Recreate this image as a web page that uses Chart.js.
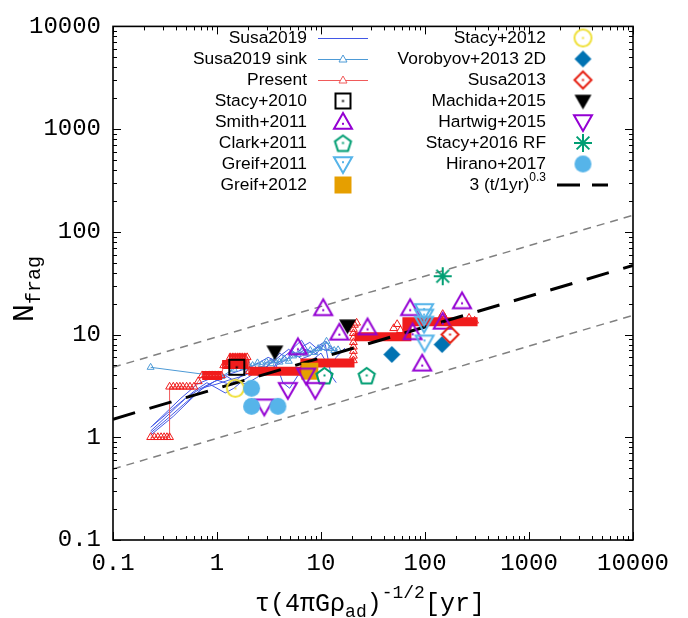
<!DOCTYPE html>
<html><head><meta charset="utf-8">
<script src="https://cdn.jsdelivr.net/npm/chart.js@4.4.1/dist/chart.umd.min.js"></script>
<style>html,body{margin:0;padding:0;background:#fff}canvas{display:block}</style>
</head><body>
<canvas id="c" width="688" height="618"></canvas>
<script>
// ---------------- DATA ----------------
const xTickValues = [0.1, 1, 10, 100, 1000, 10000];
const xTickLabels = ['0.1', '1', '10', '100', '1000', '10000'];
const yTickValues = [0.1, 1, 10, 100, 1000, 10000];
const yTickLabels = ['0.1', '1', '10', '100', '1000', '10000'];

// Susa2019 (several tracks)
const susa19T1X = [0.23,0.35,0.5,0.7,1.0,1.3,1.7,2.2,2.8,3.3,3.8,4.5,5.2,6.0,7.0,8.0,9.5,11,13];
const susa19T1Y = [1.15,1.7,2.4,3.0,3.3,3.6,3.9,4.3,5.0,5.8,5.2,6.2,7.0,6.4,7.2,6.8,7.6,7.0,7.4];
const susa19T2X = [0.23,0.4,0.6,0.8,1.0,1.2,1.45,1.8,2.3,2.8,3.4,4.0,4.8,5.5,6.5,7.5,9,10.5];
const susa19T2Y = [1.25,2.0,2.8,3.4,3.0,2.7,3.0,3.6,4.2,4.6,5.5,6.6,5.8,7.5,8.8,7.0,6.5,7.8];
const susa19T3X = [0.23,0.38,0.55,0.75,1.0,1.3,1.6,2.0,2.5,3.0,3.5,3.9,4.3,5.0,6.0,7.0,8.5,10,12,14,17];
const susa19T3Y = [1.05,1.6,2.3,3.1,3.6,3.3,3.7,4.6,4.0,4.8,5.6,4.5,3.4,3.0,4.0,5.2,5.8,6.6,4.8,6.0,7.4];
const susa19T4X = [0.24,0.45,0.65,0.9,1.2,1.6,2.1,2.6,3.1,3.6,4.2,4.9,5.7,6.6,7.8,9,11,12.5,14];
const susa19T4Y = [1.3,2.4,3.3,3.8,4.0,4.4,4.8,5.4,6.0,5.6,6.4,7.2,6.2,7.6,8.4,7.4,8.0,4.0,3.4];
const susa19T5X = [0.23,0.33,0.48,0.7,0.95,1.25,1.5,1.9,2.4,3.0,3.7,4.5,5.5,6.5,8,9.5,11,13,15];
const susa19T5Y = [1.1,1.5,2.1,2.9,3.5,3.9,3.5,3.3,3.8,4.4,5.0,5.6,6.5,5.8,6.3,7.8,8.6,7.2,6.5];

// Susa2019 sink
const sinkX = [0.23,1.1,1.45,1.6,1.8,2.0,2.2,2.45,2.7,3.0,3.3,3.6,4.0,4.4,4.9,5.4,6.0,6.6,7.2,7.9,8.6,9.4,10.3,11.3,12.3,13.4,14.6];
const sinkY = [4.8,3.9,4.6,4.9,4.8,5.1,5.0,5.3,5.1,5.4,5.2,5.6,5.4,5.8,5.5,6.2,6.4,6.8,6.5,7.0,6.7,7.3,7.5,8.6,7.3,7.0,7.1];

// Present
const presentX = [0.23,0.25,0.27,0.29,0.31,0.33,0.35,0.35,0.38,0.41,0.44,0.47,0.51,0.55,0.6,0.66,0.72,0.78,0.84,0.9,0.96,1.03,1.1,1.16,1.22,1.28,1.34,1.42,1.5,1.58,1.66,1.75,1.85,1.95,2.05];
const presentY = [1,1,1,1,1,1,1,3.1,3.1,3.1,3.1,3.1,3.1,3.1,3.1,3.5,4,4,4,4,4,4,4,5,5,5,6,6,6,6,6,6,6,6,4.4];
const presentBandX = [0.72,1.12,null,1.12,2.05,null,1.3,1.92,null,2.0,7.0,7.0,21,null,21,67,67,320];
const presentBandY = [4,4,null,5.1,5.1,null,5.9,5.9,null,4.4,4.4,5.3,5.3,null,9.5,9.5,13.3,13.3];
const presentColX = [20.5,20.5,20.5,20.5,20.5,20.5,20.5,20.5,21,22,50,54,58,140,148,155,265,300];
const presentColY = [5.6,6.2,6.9,7.6,8.4,9.3,10.3,11.3,12.4,13,11.5,12.6,11,14.2,15.8,14.5,14.5,13.6];

// Literature points
const stacy2010X = [1.55], stacy2010Y = [4.8];
const smith2011X = [10.5,15,28,72,227,76,94,6,148];
const smith2011Y = [18,10.4,11.7,18,21,10.5,5.2,7.5,13.3];
const clark2011X = [10.8,27.5], clark2011Y = [4.0,4.0];
const greif2011X = [98,98,98,99], greif2011Y = [17,15,12.8,8.4];
const greif2012X = [7.8], greif2012Y = [4.4];
const stacy2012X = [1.5], stacy2012Y = [3.0];
const vorobyovX = [48,146], vorobyovY = [6.4,8.0];
const susa2013X = [174], susa2013Y = [10];
const machidaX = [3.6,18], machidaY = [6.8,12.2];
const hartwigX = [2.85,4.8,7.2,8.8], hartwigY = [2.0,2.9,4.0,2.9];
const stacy2016X = [148], stacy2016Y = [37];
const hiranoX = [2.15,2.15,3.85], hiranoY = [3.0,2.0,2.0];

// Fit 3 (t/1yr)^0.3 and its bounds (read at x-axis ends)
const fitX = [0.1, 10000], fitY = [1.5, 47];
const upperY = [4.8, 145], lowerY = [0.49, 15.4];

// ---------------- MARKERS ----------------
function marker(kind, color, size, opts) {
  opts = opts || {};
  const pad = 3, W = Math.ceil(size + pad * 2);
  const c = document.createElement('canvas'); c.width = W; c.height = W;
  const g = c.getContext('2d'); const cx = W / 2, cy = W / 2, r = size / 2;
  g.strokeStyle = color; g.fillStyle = color; g.lineWidth = opts.lw || 2; g.lineJoin = 'miter';
  g.beginPath();
  let dy = 0;
  if (kind === 'square') g.rect(cx - r, cy - r, size, size);
  else if (kind === 'triUp') { g.moveTo(cx, cy - r); g.lineTo(cx + r, cy + r * 0.75); g.lineTo(cx - r, cy + r * 0.75); g.closePath(); dy = r * 0.2; }
  else if (kind === 'triDown') { g.moveTo(cx, cy + r); g.lineTo(cx + r, cy - r * 0.75); g.lineTo(cx - r, cy - r * 0.75); g.closePath(); dy = -r * 0.2; }
  else if (kind === 'circle') g.arc(cx, cy, r, 0, Math.PI * 2);
  else if (kind === 'diamond') { g.moveTo(cx, cy - r); g.lineTo(cx + r, cy); g.lineTo(cx, cy + r); g.lineTo(cx - r, cy); g.closePath(); }
  else if (kind === 'pentagon') { for (let i = 0; i < 5; i++) { const a = -Math.PI / 2 + i * 2 * Math.PI / 5; const px = cx + r * Math.cos(a), py = cy + 1 + r * Math.sin(a); if (i) g.lineTo(px, py); else g.moveTo(px, py); } g.closePath(); }
  else if (kind === 'star') { for (let i = 0; i < 4; i++) { const a = i * Math.PI / 4; g.moveTo(cx - r * Math.cos(a), cy - r * Math.sin(a)); g.lineTo(cx + r * Math.cos(a), cy + r * Math.sin(a)); } }
  if (opts.fill) g.fill(); else g.stroke();
  if (opts.dot) g.fillRect(cx - 1, cy + dy - 1, 2, 2);
  return c;
}
const COL = {
  susa19: '#4257e6', sink: '#4d9ad6', present: '#f05a5a', band: '#f01c1c',
  black: '#000000', purple: '#9400d3', green: '#009e73', sky: '#56b4e9',
  orange: '#e69f00', yellow: '#efe03a', blue: '#0072b2', red: '#e51e10'
};
const M = {
  stacy2010: marker('square', COL.black, 15, { dot: true }),
  smith: marker('triUp', COL.purple, 18, { dot: true }),
  clark: marker('pentagon', COL.green, 17, { dot: true }),
  greif2011: marker('triDown', COL.sky, 18, { dot: true }),
  greif2012: marker('square', COL.orange, 17, { fill: true }),
  stacy2012: marker('circle', COL.yellow, 17, { dot: true }),
  vorobyov: marker('diamond', COL.blue, 17, { fill: true }),
  susa2013: marker('diamond', COL.red, 17, { dot: true }),
  machida: marker('triDown', COL.black, 17, { fill: true }),
  hartwig: marker('triDown', COL.purple, 18, {}),
  stacy2016: marker('star', COL.green, 18, {}),
  hirano: marker('circle', COL.sky, 17, { fill: true })
};

// ---------------- DATASETS ----------------
const pts = (X, Y) => X.map((x, i) => ({ x: x, y: Y[i] }));
function segments(X, Y) {
  const out = []; let cur = [];
  X.forEach((x, i) => { if (x === null) { if (cur.length) out.push(cur); cur = []; } else cur.push({ x: x, y: Y[i] }); });
  if (cur.length) out.push(cur);
  return out;
}
const datasets = [];
[[susa19T1X, susa19T1Y], [susa19T2X, susa19T2Y], [susa19T3X, susa19T3Y], [susa19T4X, susa19T4Y], [susa19T5X, susa19T5Y]].forEach(t => {
  datasets.push({ data: pts(t[0], t[1]), showLine: true, borderColor: COL.susa19, borderWidth: 1, pointRadius: 0, order: 100 });
});
datasets.push({ data: pts(sinkX, sinkY), showLine: true, borderColor: COL.sink, borderWidth: 1, pointStyle: 'triangle', pointRadius: 4, pointBorderColor: COL.sink, pointBackgroundColor: 'rgba(0,0,0,0)', pointBorderWidth: 1, order: 90 });
segments(presentBandX, presentBandY).forEach(s => {
  datasets.push({ data: s, showLine: true, borderColor: COL.band, borderWidth: 9, borderCapStyle: 'butt', borderJoinStyle: 'miter', pointRadius: 0, order: 80 });
});
datasets.push({ data: pts(presentX, presentY), showLine: true, borderColor: COL.present, borderWidth: 1, pointStyle: 'triangle', pointRadius: 4.5, pointBorderColor: COL.band, pointBackgroundColor: 'rgba(0,0,0,0)', pointBorderWidth: 1, order: 79 });
datasets.push({ data: pts(presentColX, presentColY), showLine: false, pointStyle: 'triangle', pointRadius: 4.5, pointBorderColor: COL.band, pointBackgroundColor: 'rgba(0,0,0,0)', pointBorderWidth: 1, order: 78 });
// fit lines
datasets.push({ data: pts(fitX, upperY), showLine: true, borderColor: '#808080', borderWidth: 1.5, borderDash: [8, 6], pointRadius: 0, order: 120 });
datasets.push({ data: pts(fitX, lowerY), showLine: true, borderColor: '#808080', borderWidth: 1.5, borderDash: [8, 6], pointRadius: 0, order: 120 });
datasets.push({ data: pts(fitX, fitY), showLine: true, borderColor: '#000', borderWidth: 3, borderDash: [23, 15], pointRadius: 0, order: 70 });
// markers
const mk = (X, Y, style, ord) => ({ data: pts(X, Y), showLine: false, pointStyle: style, pointRadius: 6, order: ord });
datasets.push(mk(greif2012X, greif2012Y, M.greif2012, 30));
datasets.push(mk(clark2011X, clark2011Y, M.clark, 29));
datasets.push(mk(smith2011X, smith2011Y, M.smith, 28));
datasets.push(mk(hartwigX, hartwigY, M.hartwig, 27));
datasets.push(mk(greif2011X, greif2011Y, M.greif2011, 26));
datasets.push(mk(vorobyovX, vorobyovY, M.vorobyov, 25));
datasets.push(mk(susa2013X, susa2013Y, M.susa2013, 24));
datasets.push(mk(machidaX, machidaY, M.machida, 23));
datasets.push(mk(stacy2016X, stacy2016Y, M.stacy2016, 22));
datasets.push(mk(stacy2012X, stacy2012Y, M.stacy2012, 21));
datasets.push(mk(hiranoX, hiranoY, M.hirano, 20));
datasets.push(mk(stacy2010X, stacy2010Y, M.stacy2010, 19));

// ---------------- LEGEND / FRAME PLUGIN ----------------
const legendLeft = [
  ['Susa2019', 'line', COL.susa19], ['Susa2019 sink', 'lineTri', COL.sink], ['Present', 'lineTri', COL.present],
  ['Stacy+2010', M.stacy2010], ['Smith+2011', M.smith], ['Clark+2011', M.clark], ['Greif+2011', M.greif2011], ['Greif+2012', M.greif2012]
];
const legendRight = [
  ['Stacy+2012', M.stacy2012], ['Vorobyov+2013 2D', M.vorobyov], ['Susa2013', M.susa2013], ['Machida+2015', M.machida],
  ['Hartwig+2015', M.hartwig], ['Stacy+2016 RF', M.stacy2016], ['Hirano+2017', M.hirano], ['fit', 'dash']
];
const MONO = '"Liberation Mono", "DejaVu Sans Mono", monospace';
const SANS = '"Liberation Sans", Arial, Helvetica, sans-serif';

const framePlugin = {
  id: 'frame',
  afterDraw(chart) {
    const ctx = chart.ctx, a = chart.chartArea, xs = chart.scales.x, ys = chart.scales.y;
    ctx.save();
    // minor/major ticks inward
    ctx.strokeStyle = '#000'; ctx.lineWidth = 1;
    for (let e = -1; e <= 4; e++) {
      for (let m = 1; m <= 9; m++) {
        const v = m * Math.pow(10, e);
        if (v > 10000 * 1.0001) continue;
        const len = m === 1 ? 8 : 4;
        const px = Math.round(xs.getPixelForValue(v)) + 0.5;
        const py = Math.round(ys.getPixelForValue(v)) + 0.5;
        ctx.beginPath();
        ctx.moveTo(px, a.bottom); ctx.lineTo(px, a.bottom - len);
        ctx.moveTo(px, a.top); ctx.lineTo(px, a.top + len);
        ctx.moveTo(a.left, py); ctx.lineTo(a.left + len, py);
        ctx.moveTo(a.right, py); ctx.lineTo(a.right - len, py);
        ctx.stroke();
      }
    }
    // frame
    ctx.lineWidth = 1.6;
    ctx.strokeRect(a.left, a.top, a.right - a.left, a.bottom - a.top);

    // legend
    ctx.font = '17.4px ' + SANS; ctx.fillStyle = '#000'; ctx.textBaseline = 'middle'; ctx.textAlign = 'right';
    legendLeft.forEach((e, i) => {
      const y = 38 + i * 21;
      ctx.fillStyle = '#000'; ctx.fillText(e[0], 307, y);
      if (e[1] === 'line' || e[1] === 'lineTri') {
        ctx.strokeStyle = e[2]; ctx.lineWidth = 1; ctx.setLineDash([]);
        ctx.beginPath(); ctx.moveTo(318, y + 0.5); ctx.lineTo(368, y + 0.5); ctx.stroke();
        if (e[1] === 'lineTri') {
          ctx.beginPath(); ctx.moveTo(343, y - 4); ctx.lineTo(347, y + 3); ctx.lineTo(339, y + 3); ctx.closePath();
          ctx.fillStyle = '#fff'; ctx.fill(); ctx.stroke();
        }
      } else {
        const c = e[1]; ctx.drawImage(c, 343 - c.width / 2, y - c.height / 2);
      }
    });
    legendRight.forEach((e, i) => {
      const y = 38 + i * 21;
      ctx.fillStyle = '#000'; ctx.textAlign = 'right'; ctx.font = '17.4px ' + SANS;
      if (e[1] === 'dash') {
        ctx.font = '12px ' + SANS; ctx.fillText('0.3', 546, y - 7);
        const w = ctx.measureText('0.3').width;
        ctx.font = '17.4px ' + SANS; ctx.fillText('3 (t/1yr)', 546 - w, y);
        ctx.strokeStyle = '#000'; ctx.lineWidth = 3; ctx.setLineDash([23, 12]);
        ctx.beginPath(); ctx.moveTo(557, y); ctx.lineTo(608, y); ctx.stroke(); ctx.setLineDash([]);
      } else {
        ctx.fillText(e[0], 546, y);
        const c = e[1]; ctx.drawImage(c, 583 - c.width / 2, y - c.height / 2);
      }
    });

    // y-axis title N_frag (rotated)
    ctx.textAlign = 'left'; ctx.textBaseline = 'alphabetic'; ctx.fillStyle = '#000';
    ctx.translate(33, 322); ctx.rotate(-Math.PI / 2);
    ctx.font = '30px ' + MONO; ctx.fillText('N', 0, 0);
    const wN = ctx.measureText('N').width;
    ctx.font = '20px ' + MONO; ctx.fillText('frag', wN, 7);
    ctx.setTransform(1, 0, 0, 1, 0, 0);

    // x-axis title
    const parts = [['τ(4πGρ', 25, 0], ['ad', 18, 6], [')', 25, 0], ['-1/2', 18, -13], ['[yr]', 25, 0]];
    let total = 0;
    parts.forEach(p => { ctx.font = p[1] + 'px ' + MONO; total += ctx.measureText(p[0]).width; });
    let x0 = 370 - total / 2;
    parts.forEach(p => { ctx.font = p[1] + 'px ' + MONO; ctx.fillText(p[0], x0, 611 + p[2]); x0 += ctx.measureText(p[0]).width; });
    ctx.restore();
  }
};

// ---------------- CHART ----------------
const tickFont = { family: MONO, size: 24 };
new Chart(document.getElementById('c').getContext('2d'), {
  type: 'scatter',
  data: { datasets: datasets },
  options: {
    responsive: false, animation: false, devicePixelRatio: 1,
    layout: { padding: { top: 18, right: 55, left: 0, bottom: 0 } },
    plugins: { legend: { display: false }, tooltip: { enabled: false } },
    scales: {
      x: {
        type: 'logarithmic', min: 0.1, max: 10000, position: 'bottom',
        afterBuildTicks: s => { s.ticks = xTickValues.map(v => ({ value: v, major: true })); },
        afterFit: s => { s.height = 78; },
        ticks: { callback: (v, i) => xTickLabels[i], font: tickFont, color: '#000', padding: 9, maxRotation: 0, autoSkip: false },
        grid: { display: false, drawTicks: false }, border: { display: false }
      },
      y: {
        type: 'logarithmic', min: 0.1, max: 10000, position: 'left',
        afterBuildTicks: s => { s.ticks = yTickValues.map(v => ({ value: v, major: true })); },
        afterFit: s => { s.width = 113; },
        ticks: { callback: (v, i) => yTickLabels[i], font: tickFont, color: '#000', padding: 12, autoSkip: false },
        grid: { display: false, drawTicks: false }, border: { display: false }
      }
    }
  },
  plugins: [framePlugin]
});
</script>
</body></html>
